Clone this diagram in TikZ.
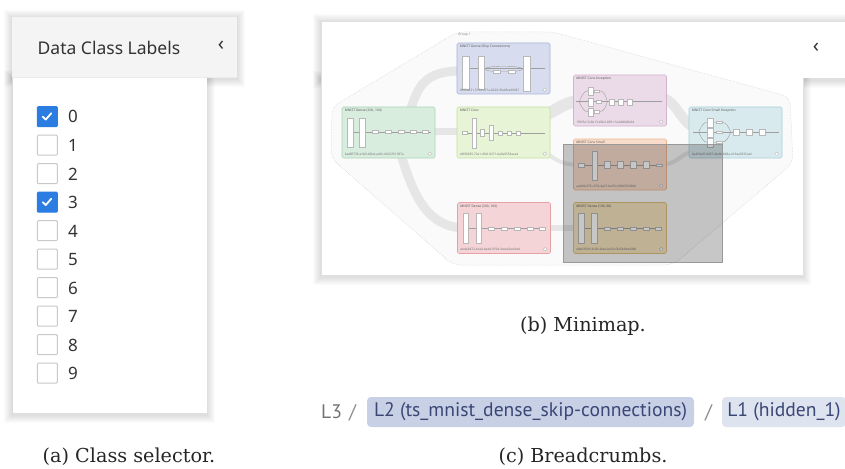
\documentclass[tikz,border=0pt]{standalone}
\usepackage{fontspec}
\setmainfont{DejaVu Serif}
\newfontfamily\uifont{Noto Sans}
\newfontfamily\bcfont{PT Sans}
\usetikzlibrary{calc}
\pgfdeclarelayer{back}
\pgfdeclarelayer{edges}
\pgfsetlayers{back,edges,main}

\definecolor{chkblue}{HTML}{2B7DE1}
\definecolor{boxgrey}{HTML}{C9C9C9}
\definecolor{hdrgrey}{HTML}{F4F4F4}
\definecolor{txtgrey}{HTML}{333333}
\definecolor{pillA}{HTML}{C8D0E6}
\definecolor{pillB}{HTML}{DEE3F0}
\definecolor{pilltxt}{HTML}{3A4775}
\definecolor{gfill}{HTML}{D9EDDF}\definecolor{gdraw}{HTML}{A9D6B6}
\definecolor{bfill}{HTML}{D7DDEF}\definecolor{bdraw}{HTML}{A8B3D8}
\definecolor{cfill}{HTML}{E7F4D6}\definecolor{cdraw}{HTML}{C3E2A0}
\definecolor{pfill}{HTML}{EBDAE7}\definecolor{pdraw}{HTML}{D4B3CC}
\definecolor{tfill}{HTML}{D8EAEE}\definecolor{tdraw}{HTML}{A9D1D9}
\definecolor{ofill}{HTML}{F8DCCB}\definecolor{odraw}{HTML}{EFB58E}
\definecolor{rfill}{HTML}{F4D4D7}\definecolor{rdraw}{HTML}{E5A1A6}
\definecolor{nfill}{HTML}{F5E4BE}\definecolor{ndraw}{HTML}{DDBF80}
\definecolor{bandc}{HTML}{E6E6E6}

\newcommand\softshadow[4]{%
  \foreach \i in {1,...,8}{\fill[black,opacity=0.016] (#1-\i,#2-\i+1) rectangle (#3+\i,#4+\i+2);}}

\tikzset{
  mm/.style={rectangle, minimum width=93pt, minimum height=51pt, inner sep=0pt,
             rounded corners=1.5pt, line width=0.6pt},
  lay/.style={fill=white, draw=black!28, line width=0.3pt},
  wire/.style={draw=black!38, line width=0.4pt},
  band/.style={draw=bandc, line cap=butt},
  mmtitle/.style={anchor=west, inner sep=0pt, text=black!65,
                  font=\uifont\bfseries\fontsize{3.3}{4}\selectfont},
  mmid/.style={anchor=west, inner sep=0pt, text=black!55,
               font=\uifont\fontsize{3.1}{4}\selectfont},
  ckbox/.style={rectangle, minimum width=20pt, minimum height=20pt, inner sep=0pt,
                rounded corners=1pt, line width=1pt},
  cklabel/.style={anchor=base west, inner sep=0pt, text=txtgrey,
                  font=\uifont\fontsize{17}{20}\selectfont},
  chev/.style={inner sep=0pt, text=txtgrey, font=\uifont\bfseries\fontsize{20}{24}\selectfont},
  bctext/.style={anchor=base west, inner sep=0pt, font=\bcfont\fontsize{19.6}{22}\selectfont},
  pill/.style={rectangle, rounded corners=4pt, inner sep=0pt, minimum height=30pt,
               text=pilltxt, font=\bcfont\fontsize{19.6}{22}\selectfont},
  capt/.style={anchor=base, inner sep=0pt, text=black!85, font=\fontsize{19.2}{22}\selectfont},
}

\newcommand\mmcorner{\draw[black!30, line width=0.3pt, fill=white] (88,47) circle (1.8);}

\begin{document}
\begin{tikzpicture}[x=1pt,y=-1pt]
\useasboundingbox (0,0) rectangle (845,468);
\begin{pgfonlayer}{back}
\fill[white] (0,0) rectangle (845,468);
\end{pgfonlayer}

% ================= (a) class selector =================
\softshadow{12}{17}{237}{77}
\softshadow{12}{77}{207}{413}
\fill[white] (12,77) rectangle (207,413);
\draw[black!15, line width=0.8pt] (12,77) -- (12,413);
\fill[hdrgrey] (12,17) rectangle (237,77);
\draw[black!8] (12,77) -- (237,77);
\node[anchor=base west, inner sep=0pt, text=txtgrey, font=\uifont\fontsize{17.5}{20}\selectfont]
  (hdr) at (37.5,55) {Data Class Labels};
\node[chev] (hdrchev) at (221,46) {‹};

\foreach \d/\chk in {0/1,1/0,2/0,3/1,4/0,5/0,6/0,7/0,8/0,9/0}{
  \pgfmathsetmacro\cy{116.7+28.5*\d}
  \ifnum\chk=1
    \node[ckbox, fill=chkblue, draw=chkblue] (cb\d) at (47.3,\cy) {};
    \draw[white, line width=1.8pt, line cap=round, line join=round]
      ($(cb\d.north west)+(6,10.5)$) -- ($(cb\d.north west)+(9,13.3)$) -- ($(cb\d.north west)+(14.5,7)$);
  \else
    \node[ckbox, fill=white, draw=boxgrey] (cb\d) at (47.3,\cy) {};
  \fi
  \node[cklabel] (lb\d) at (68,\cy+6.3) {\d};
}
\node[capt] (capa) at (129,462) {(a) Class selector.};

% ================= (b) minimap =================
\begin{pgfonlayer}{back}
\softshadow{321}{21}{845}{78}
\softshadow{321}{78}{803}{275}
\fill[white] (321,21) rectangle (845,78);
\fill[white] (321,21) rectangle (803,275);
\draw[black!12, line width=0.6pt] (845,21) -- (321,21) -- (321,275) -- (803,275) -- (803,78);
% group hull
\draw[black!18, densely dotted, fill=black!2, line width=0.5pt, rounded corners=8pt]
  (332,107) -- (457,32) -- (553,32) -- (790,97) -- (793,163) -- (673,265) -- (453,265) -- (331,158) -- cycle;
\node[anchor=west, inner sep=0pt, text=black!50, font=\uifont\fontsize{3.3}{4}\selectfont]
  (grp) at (458,35) {Group 1};
\end{pgfonlayer}
\node[chev] (mmchev) at (816,48) {‹};

% nodes
\node[mm, fill=gfill, draw=gdraw] (green)  at (388.5,132.5) {};
\node[mm, fill=bfill, draw=bdraw] (blue)   at (503.5,68.5) {};
\node[mm, fill=cfill, draw=cdraw] (conv)   at (503.5,132.5) {};
\node[mm, fill=pfill, draw=pdraw] (pink)   at (620,100.5) {};
\node[mm, fill=tfill, draw=tdraw] (teal)   at (735.5,132.5) {};
\node[mm, fill=ofill, draw=odraw] (orange) at (620,164.5) {};
\node[mm, fill=rfill, draw=rdraw] (red)    at (504,228) {};
\node[mm, fill=nfill, draw=ndraw] (tan)    at (620,228) {};

% bands (edges)
\begin{pgfonlayer}{edges}
\draw[band, line width=9pt] ($(green.north west)+(66,12)$) .. controls ($(green.north west)+(76,-20)$) and ($(blue.north west)+(-35,28)$) .. ($(blue.north west)+(8,28)$);
\draw[band, line width=7pt] ($(green.north west)+(80,25)$) -- ($(conv.north west)+(10,25)$);
\draw[band, line width=9pt] ($(green.north west)+(58,44)$) .. controls ($(green.north west)+(72,90)$) and ($(red.north west)+(-30,26)$) .. ($(red.north west)+(10,26)$);
\draw[band, line width=12pt] ($(conv.north west)+(85,10)$) .. controls ($(conv.north west)+(100,4)$) and ($(pink.north west)+(-8,26)$) .. ($(pink.north west)+(10,26)$);
\draw[band, line width=10pt] ($(pink.north west)+(85,22)$) .. controls ($(pink.north west)+(105,24)$) and ($(teal.north west)+(-8,20)$) .. ($(teal.north west)+(10,22)$);
\draw[band, line width=4pt] ($(conv.north west)+(85,44)$) .. controls ($(conv.north west)+(105,56)$) and ($(orange.north west)+(-12,26)$) .. ($(orange.north west)+(8,26)$);
\draw[band, line width=4pt] ($(orange.north west)+(85,26)$) .. controls ($(orange.north west)+(108,26)$) and ($(teal.north west)+(-10,45)$) .. ($(teal.north west)+(8,45)$);
\draw[band, line width=6pt] ($(red.north west)+(85,26)$) -- ($(tan.north west)+(10,26)$);
\end{pgfonlayer}

% ---- green: dense
\begin{scope}[shift={(green.north west)}]
  \node[mmtitle] (gT) at (3,4) {MNIST Dense (200, 100)};
  \draw[wire] (11,25) -- (89,25);
  \draw[lay] (5,11) rectangle (11,40);
  \draw[lay] (17,11) rectangle (23,40);
  \foreach \x in {30,43,56,68,80} \draw[lay] (\x,23.5) rectangle ++(6,3);
  \node[mmid] (gI) at (3,47.5) {bad8f735-a1b9-45bd-ad01-0025251997a};
  \mmcorner
\end{scope}
% ---- blue: skip connections
\begin{scope}[shift={(blue.north west)}]
  \node[mmtitle] (bT) at (3,4) {MNIST Dense (Skip Connections)};
  \draw[wire] (12,26) -- (88,26);
  \draw[wire] (47,26.3) ellipse (19 and 2.8);
  \draw[lay] (5,13) rectangle (12,46);
  \draw[lay] (21,13) rectangle (27,46);
  \draw[lay] (36,27.5) rectangle ++(7,2.5);
  \draw[lay] (51,27.5) rectangle ++(7,2.5);
  \draw[lay] (66,13) rectangle (73,48);
  \node[mmid] (bI) at (3,47.5) {0995a521-5134-471a-8022-9fa4fba90387};
  \mmcorner
\end{scope}
% ---- conv
\begin{scope}[shift={(conv.north west)}]
  \node[mmtitle] (cT) at (3,4) {MNIST Conv};
  \draw[wire] (5,26) -- (88,26);
  \draw[lay] (5,24.5) rectangle (10,27.5);
  \draw[lay] (15,11) rectangle (19,41);
  \draw[lay] (23,22.5) rectangle (27,29.5);
  \draw[lay] (32,18) rectangle (36,33);
  \foreach \x in {41,50,59} \draw[lay] (\x,24) rectangle ++(4,4);
  \node[mmid] (cI) at (3,47.5) {c86f6635-72e1-4fc6-9271-6a5e6553aca4};
  \mmcorner
\end{scope}
% ---- pink: conv inception
\begin{scope}[shift={(pink.north west)}]
  \node[mmtitle] (pT) at (3,4) {MNIST Conv Inception};
  \draw[wire] (3,27) -- (89,27);
  \draw[wire] (6,27) .. controls (9,20) and (11,16) .. (15,16);
  \draw[wire] (6,27) .. controls (9,34) and (11,37) .. (15,37);
  \draw[wire] (20,16) -- (26,16) .. controls (31,16) and (33,22) .. (34,27);
  \draw[wire] (20,37) -- (26,37) .. controls (31,37) and (33,32) .. (34,27);
  \draw[lay] (15,12) rectangle (20,20);
  \draw[lay] (15,23) rectangle (20,31);
  \draw[lay] (15,33) rectangle (20,41);
  \draw[lay] (21,15) rectangle (26,17.3);
  \draw[lay] (23,25.8) rectangle (28,28.2);
  \draw[lay] (21,35.8) rectangle (26,38.2);
  \foreach \x in {36,45,54} \draw[lay] (\x,24) rectangle ++(5,6);
  \node[mmid] (pI) at (3,47.5) {1f955c13-6b13-45b2-8051-5c446048c6d};
  \mmcorner
\end{scope}
% ---- teal: conv small inception
\begin{scope}[shift={(teal.north west)}]
  \node[mmtitle] (tT) at (3,4) {MNIST Conv Small Inception};
  \draw[wire] (4,25.5) -- (90,25.5);
  \draw[wire] (10,25.5) .. controls (13,19) and (15,15.5) .. (18,15.5);
  \draw[wire] (10,25.5) .. controls (13,32) and (15,35.5) .. (18,35.5);
  \draw[wire] (24,15.5) -- (33,15.5) .. controls (38,15.5) and (40,21) .. (42,25.5);
  \draw[wire] (24,35.5) -- (33,35.5) .. controls (38,35.5) and (40,30) .. (42,25.5);
  \draw[lay] (18,11) rectangle (24,20);
  \draw[lay] (18,21) rectangle (24,30);
  \draw[lay] (18,31) rectangle (24,40);
  \draw[lay] (27,14.3) rectangle (33,16.7);
  \draw[lay] (27,24.3) rectangle (33,26.7);
  \draw[lay] (27,34.3) rectangle (33,36.7);
  \foreach \x in {44,57,70} \draw[lay] (\x,22.5) rectangle ++(6,6);
  \node[mmid] (tI) at (3,47.5) {0a450a9f-8457-4bdb-b68a-4134a5935ab1};
  \mmcorner
\end{scope}
% ---- orange: conv small
\begin{scope}[shift={(orange.north west)}]
  \node[mmtitle] (oT) at (3,4) {MNIST Conv Small};
  \draw[wire] (5,26) -- (89,26);
  \draw[lay] (5,24) rectangle (11,28);
  \draw[lay] (19,12) rectangle (24,41);
  \foreach \x in {31,44,57,70} \draw[lay] (\x,22.5) rectangle ++(6,7);
  \draw[lay] (83,25) rectangle (89,27.5);
  \node[mmid] (oI) at (3,47.5) {aabfdc375-c574-4e27-be59-c90063303b8};
  \mmcorner
\end{scope}
% ---- red: dense
\begin{scope}[shift={(red.north west)}]
  \node[mmtitle] (rT) at (3,4) {MNIST Dense (200, 100)};
  \draw[wire] (11,26) -- (89,26);
  \draw[lay] (6,11) rectangle (11,41);
  \draw[lay] (19,11) rectangle (24,41);
  \foreach \x in {31,44,57,70,82} \draw[lay] (\x,24.5) rectangle ++(6,3);
  \node[mmid] (rI) at (3,47.5) {ebda3d72-bca0-4a4d-9794-3cee42ecfe4d};
  \mmcorner
\end{scope}
% ---- tan: dense
\begin{scope}[shift={(tan.north west)}]
  \node[mmtitle] (nT) at (3,4) {MNIST Dense (100, 60)};
  \draw[wire] (11,26) -- (89,26);
  \draw[lay] (5,11) rectangle (11,41);
  \draw[lay] (18,11) rectangle (24,41);
  \foreach \x in {31,44,57,70,82} \draw[lay] (\x,24.5) rectangle ++(6,3);
  \node[mmid] (nI) at (3,47.5) {e8e03509-3c03-40ae-be50-f3a5b9de4386};
  \mmcorner
\end{scope}

% viewport overlay
\fill[black, opacity=0.22] (563,144) rectangle (722,262);
\draw[black!40, line width=0.8pt] (563,144) rectangle (722,262);

\node[capt] (capb) at (583,331) {(b) Minimap.};

% ================= (c) breadcrumbs =================
\node[bctext, text=black!55] (l3) at (321,418) {L3};
\node[bctext, text=black!45] (s1) at (349,418) {/};
\node[pill, fill=pillA, minimum width=327pt] (l2) at (530.5,412) {L2 (ts\_mnist\_dense\_skip-connections)};
\node[bctext, text=black!45] (s2) at (705,418) {/};
\node[pill, fill=pillB, minimum width=124pt] (l1) at (784,412) {L1 (hidden\_1)};
\node[capt] (capc) at (583,462) {(c) Breadcrumbs.};
\end{tikzpicture}
\end{document}
